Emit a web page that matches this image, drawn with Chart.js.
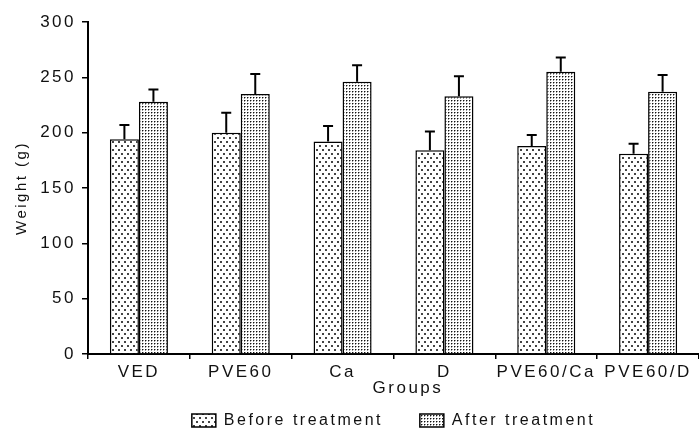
<!DOCTYPE html>
<html>
<head>
<meta charset="utf-8">
<script src="https://cdn.jsdelivr.net/npm/chart.js@4.4.1/dist/chart.umd.min.js"></script>
<style>
  html, body { margin: 0; padding: 0; background: #fff; }
  #wrap { width: 699px; height: 431px; }
</style>
</head>
<body>
<div id="wrap"><canvas id="chart" width="699" height="431"></canvas></div>
<script>
const groups = ["VED", "PVE60", "Ca", "D", "PVE60/Ca", "PVE60/D"]
const before = [194, 200, 192, 184, 188, 181]
const beforeSd = [13, 18, 14, 17, 10, 9]
const after = [228, 235, 246, 233, 255, 237]
const afterSd = [11, 18, 15, 18, 13, 15]
const yTicks = [0, 50, 100, 150, 200, 250, 300]

const font = "'Liberation Sans', Arial, sans-serif"

// dot fills, drawn on tiny canvases
function dots(w, h, draw) {
	let c = document.createElement("canvas")
	c.width = w
	c.height = h
	let g = c.getContext("2d")
	g.fillStyle = "#fff"
	g.fillRect(0, 0, w, h)
	draw(g)
	return document.createElement("canvas").getContext("2d").createPattern(c, "repeat")
}

const sparse = dots(6, 8, g => {
	g.fillStyle = "#444"
	g.fillRect(1, 1, 2, 2)
	g.fillRect(4, 5, 2, 2)
})
const dense = dots(3, 3, g => {
	g.fillStyle = "#111"
	g.fillRect(1, 1, 1, 1)
	g.fillStyle = "#999"
	g.fillRect(2, 1, 1, 1)
	g.fillRect(1, 2, 1, 1)
})

const spacing = {
	id: "spacing",
	beforeLayout(chart) { chart.ctx.letterSpacing = "2.5px" },
	beforeDraw(chart) { chart.ctx.letterSpacing = "2.5px" }
}

const errorBars = {
	id: "errorBars",
	afterDatasetsDraw(chart) {
		const ctx = chart.ctx
		const y = chart.scales.y
		ctx.save()
		ctx.strokeStyle = "#000"
		ctx.lineWidth = 2
		chart.data.datasets.forEach((ds, i) => {
			chart.getDatasetMeta(i).data.forEach((bar, j) => {
				let top = y.getPixelForValue(ds.data[j] + ds.sd[j])
				ctx.beginPath()
				ctx.moveTo(bar.x, bar.y)
				ctx.lineTo(bar.x, top)
				ctx.moveTo(bar.x - 5, top)
				ctx.lineTo(bar.x + 5, top)
				ctx.stroke()
			})
		})
		ctx.restore()
	}
}

let chart = new Chart(document.querySelector("#chart"), {
	type: "bar",
	data: {
		labels: groups,
		datasets: [{
			label: "Before treatment",
			data: before,
			sd: beforeSd,
			backgroundColor: sparse,
			borderColor: "#000",
			borderWidth: 1.5
		}, {
			label: "After treatment",
			data: after,
			sd: afterSd,
			backgroundColor: dense,
			borderColor: "#000",
			borderWidth: 1.5
		}]
	},
	options: {
		responsive: false,
		animation: false,
		categoryPercentage: 0.57,
		barPercentage: 1,
		layout: { padding: { top: 22, left: 0, right: 0, bottom: -7.5 } },
		plugins: {
			tooltip: { enabled: false },
			legend: {
				position: "bottom",
				fullSize: false,
				labels: {
					color: "#111",
					font: { family: font, size: 16 },
					boxWidth: 24,
					boxHeight: 13,
					padding: 16,
					generateLabels(chart) {
						let items = Chart.defaults.plugins.legend.labels.generateLabels(chart)
						items[0].text += "   "
						return items
					}
				}
			}
		},
		scales: {
			x: {
				afterFit: s => { s.height = 42.5 },
				border: { color: "#000", width: 2 },
				grid: { drawOnChartArea: false, color: "#000", lineWidth: 1.5, tickLength: 5 },
				ticks: { color: "#111", font: { family: font, size: 17 }, padding: 3, maxRotation: 0, autoSkip: false },
				title: { display: true, text: "    Groups", color: "#111", font: { family: font, size: 17, lineHeight: 1 }, padding: 0 }
			},
			y: {
				min: 0,
				max: 300,
				afterFit: s => { s.width = 88 },
				afterBuildTicks: s => { s.ticks = yTicks.map(v => ({ value: v })) },
				border: { color: "#000", width: 2 },
				grid: { drawOnChartArea: false, color: "#000", lineWidth: 1.5, tickLength: 6 },
				ticks: { color: "#111", font: { family: font, size: 17 }, padding: 6 },
				title: { display: true, text: "Weight (g)", color: "#111", font: { family: font, size: 15 }, padding: { top: 13, bottom: 0 } }
			}
		}
	},
	plugins: [spacing, errorBars]
})
</script>
</body>
</html>
